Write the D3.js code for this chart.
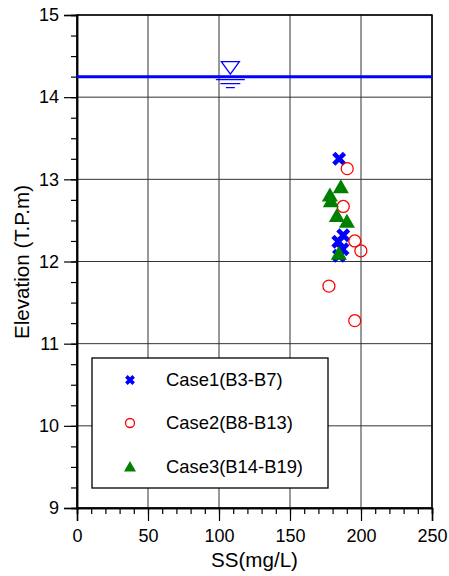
<!DOCTYPE html>
<html>
<head>
<meta charset="utf-8">
<script src="https://cdn.jsdelivr.net/npm/d3@7"></script>
<style>
  body { margin: 0; background: #fff; }
  text { font-family: "Liberation Sans", Arial, sans-serif; fill: #000; }
</style>
</head>
<body>
<div id="chart"></div>
<script>
// values
const case1SS = [184.6, 187.5, 184.0, 187.0, 184.5];
const case1Elev = [13.25, 12.32, 12.24, 12.15, 12.07];
const case2SS = [190.3, 187.5, 195.6, 199.9, 177.4, 195.6];
const case2Elev = [13.13, 12.67, 12.25, 12.13, 11.70, 11.28];
const case3SS = [185.8, 178.1, 178.8, 183.0, 190.1, 184.4];
const case3Elev = [12.90, 12.80, 12.73, 12.55, 12.48, 12.09];
const legendLabels = ["Case1(B3-B7)", "Case2(B8-B13)", "Case3(B14-B19)"];
const xTicks = [0, 50, 100, 150, 200, 250];
const yTicks = [9, 10, 11, 12, 13, 14, 15];
const waterLevel = 14.25;
const waterMarkSS = 108;

let width = 449, height = 576;
let margin = {left: 77, right: 17, top: 15, bottom: 68};

let svg = d3.select('#chart').append('svg')
  .attr('width', width)
  .attr('height', height);

let x = d3.scaleLinear().domain([0, 250]).range([margin.left, width - margin.right]);
let y = d3.scaleLinear().domain([9, 15]).range([height - margin.bottom, margin.top]);

// grid
let grid = svg.append('g');
grid.selectAll('line.vx')
  .data(xTicks).enter()
  .append('line')
  .attr('x1', d => x(d)).attr('x2', d => x(d))
  .attr('y1', y(9)).attr('y2', y(15))
  .attr('stroke', '#333').attr('stroke-width', 1);
grid.selectAll('line.hy')
  .data(yTicks).enter()
  .append('line')
  .attr('y1', d => y(d)).attr('y2', d => y(d))
  .attr('x1', x(0)).attr('x2', x(250))
  .attr('stroke', '#333').attr('stroke-width', 1);

// axes
let xAxis = d3.axisBottom(x).tickValues(xTicks).tickSize(13).tickPadding(8);
let xMinor = d3.axisBottom(x).tickValues(d3.range(0, 251, 10)).tickSize(6).tickFormat('');
let yAxis = d3.axisLeft(y).tickValues(yTicks).tickSize(13).tickPadding(5).tickFormat(d3.format('d'));
let yMinor = d3.axisLeft(y).tickValues(d3.range(9, 15.01, 0.25)).tickSize(6).tickFormat('');

svg.append('g').attr('transform', 'translate(0,' + y(9) + ')').call(xMinor);
let gx = svg.append('g').attr('transform', 'translate(0,' + y(9) + ')').call(xAxis);
svg.append('g').attr('transform', 'translate(' + x(0) + ',0)').call(yMinor);
let gy = svg.append('g').attr('transform', 'translate(' + x(0) + ',0)').call(yAxis);

svg.selectAll('.domain').attr('stroke', '#000').attr('stroke-width', 1.5);
svg.selectAll('.tick line').attr('stroke', '#000').attr('stroke-width', 1.2);
gx.selectAll('text').style('font-size', '18px').style('font-family', '"Liberation Sans", Arial, sans-serif');
gy.selectAll('text').style('font-size', '18px').style('font-family', '"Liberation Sans", Arial, sans-serif');

// frame
svg.append('rect')
  .attr('x', x(0)).attr('y', y(15))
  .attr('width', x(250) - x(0)).attr('height', y(9) - y(15))
  .attr('fill', 'none').attr('stroke', '#000').attr('stroke-width', 1.5);

// water level
svg.append('line')
  .attr('x1', x(0)).attr('x2', x(250))
  .attr('y1', y(waterLevel)).attr('y2', y(waterLevel))
  .attr('stroke', '#0000ff').attr('stroke-width', 3);
let wx = x(waterMarkSS), wy = y(waterLevel);
svg.append('path')
  .attr('d', 'M' + (wx - 9) + ',' + (wy - 15) + 'L' + (wx + 9) + ',' + (wy - 15) + 'L' + wx + ',' + (wy - 2.5) + 'Z')
  .attr('fill', 'none').attr('stroke', '#0000ff').attr('stroke-width', 1.3);
[[14.5, 3], [10, 7], [4.5, 11]].forEach(function(w) {
  svg.append('line')
    .attr('x1', wx - w[0]).attr('x2', wx + w[0])
    .attr('y1', wy + w[1]).attr('y2', wy + w[1])
    .attr('stroke', '#0000ff').attr('stroke-width', 1.2);
});

// symbols
let crossPath = d3.symbol().type(d3.symbolX).size(76);
let crossSmall = d3.symbol().type(d3.symbolX).size(36);
let triPath = d3.symbol().type(d3.symbolTriangle).size(112);
let triSmall = d3.symbol().type(d3.symbolTriangle).size(62);

function drawCross(g, sym, w) {
  g.append('path').attr('d', sym).attr('fill', 'none')
    .attr('stroke', '#0000ff').attr('stroke-width', w);
}
function drawCircle(g, r) {
  g.append('circle').attr('r', r).attr('fill', 'none')
    .attr('stroke', '#ff0000').attr('stroke-width', 1.3);
}
function drawTri(g, sym) {
  g.append('path').attr('d', sym).attr('fill', '#008000')
    .attr('transform', 'translate(0,1)');
}

let pts = svg.append('g');
case1SS.forEach(function(v, i) {
  drawCross(pts.append('g').attr('transform', 'translate(' + x(v) + ',' + y(case1Elev[i]) + ')'), crossPath, 4.6);
});
case2SS.forEach(function(v, i) {
  drawCircle(pts.append('g').attr('transform', 'translate(' + x(v) + ',' + y(case2Elev[i]) + ')'), 6);
});
case3SS.forEach(function(v, i) {
  drawTri(pts.append('g').attr('transform', 'translate(' + x(v) + ',' + y(case3Elev[i]) + ')'), triPath);
});

// legend
let legend = svg.append('g');
legend.append('rect')
  .attr('x', 92).attr('y', 358).attr('width', 236).attr('height', 130)
  .attr('fill', '#fff').attr('stroke', '#000').attr('stroke-width', 1.3);
let rows = [380, 423, 467];
legendLabels.forEach(function(label, i) {
  let g = legend.append('g').attr('transform', 'translate(130,' + rows[i] + ')');
  if (i === 0) drawCross(g, crossSmall, 3.6);
  if (i === 1) drawCircle(g, 4.5);
  if (i === 2) drawTri(g, triSmall);
  legend.append('text')
    .attr('x', 166).attr('y', rows[i])
    .attr('dy', '0.35em')
    .style('font-size', '18.4px')
    .text(label);
});

// axis titles
svg.append('text')
  .attr('x', (x(0) + x(250)) / 2).attr('y', 567)
  .attr('text-anchor', 'middle')
  .style('font-size', '20.6px')
  .text('SS(mg/L)');
svg.append('text')
  .attr('transform', 'translate(29,' + 262 + ') rotate(-90)')
  .attr('text-anchor', 'middle')
  .style('font-size', '20.6px')
  .text('Elevation (T.P.m)');
</script>
</body>
</html>
